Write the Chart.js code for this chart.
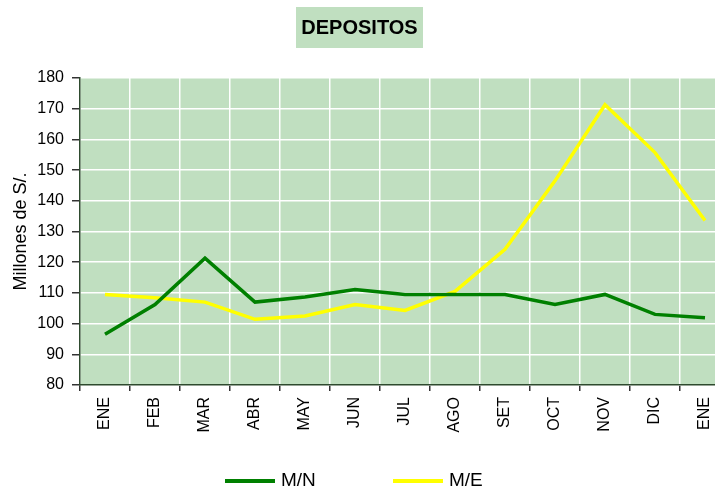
<!DOCTYPE html>
<html>
<head>
<meta charset="utf-8">
<script src="https://cdn.jsdelivr.net/npm/chart.js@4"></script>
<style>
    html, body { margin: 0; padding: 0; background: #fff; overflow: hidden; }
    #wrap { width: 740px; height: 488px; }
</style>
</head>
<body>
<div id="wrap"><canvas id="line-chart"></canvas></div>
<script>
// Datos
var meses = ["ENE", "FEB", "MAR", "ABR", "MAY", "JUN", "JUL", "AGO", "SET", "OCT", "NOV", "DIC", "ENE"];
var depositosMN = [96.5, 106.2, 121.3, 107, 108.7, 111.1, 109.5, 109.5, 109.5, 106.2, 109.5, 103, 101.9];
var depositosME = [109.5, 108.4, 107, 101.4, 102.5, 106.2, 104.3, 110.5, 124.2, 146.5, 171.3, 155.7, 133.6];
var tituloGrafico = "DEPOSITOS";
var tituloEjeY = "Millones de S/.";

var fuente = 'Arial, "Liberation Sans", sans-serif';
var fondoVerde = "#c0dfc0";

// fondo del area del grafico
var fondoPlugin = {
    id: "fondo",
    beforeDraw: function (chart) {
        var a = chart.chartArea;
        var ctx = chart.ctx;
        ctx.save();
        ctx.fillStyle = fondoVerde;
        ctx.fillRect(a.left, a.top, a.right - a.left, a.bottom - a.top);
        ctx.restore();
    }
};

// titulo con caja verde y leyenda abajo
var textosPlugin = {
    id: "textos",
    afterDraw: function (chart) {
        var ctx = chart.ctx;
        ctx.save();
        ctx.fillStyle = fondoVerde;
        ctx.fillRect(296, 7, 127, 41);
        ctx.fillStyle = "#000";
        ctx.font = "bold 20px " + fuente;
        ctx.textAlign = "center";
        ctx.textBaseline = "middle";
        ctx.fillText(tituloGrafico, 359.5, 28);

        var xs = [225, 393];
        ctx.font = "19px " + fuente;
        ctx.textAlign = "left";
        chart.data.datasets.forEach(function (ds, i) {
            ctx.strokeStyle = ds.borderColor;
            ctx.lineWidth = 4;
            ctx.beginPath();
            ctx.moveTo(xs[i], 481);
            ctx.lineTo(xs[i] + 50, 481);
            ctx.stroke();
            ctx.fillStyle = "#000";
            ctx.fillText(ds.label, xs[i] + 56, 481);
        });
        ctx.restore();
    }
};

new Chart(document.getElementById("line-chart"), {
    type: 'line',
    data: {
        labels: meses,
        datasets: [
            {
                label: "M/N",
                data: depositosMN,
                borderColor: "#008000",
                borderWidth: 3.5,
                pointRadius: 0,
                tension: 0,
                fill: false
            },
            {
                label: "M/E",
                data: depositosME,
                borderColor: "#ffff00",
                borderWidth: 3.5,
                pointRadius: 0,
                tension: 0,
                fill: false
            }
        ]
    },
    options: {
        responsive: true,
        maintainAspectRatio: false,
        devicePixelRatio: 1,
        animation: false,
        layout: { padding: { top: 78, right: 10, bottom: 0, left: 0 } },
        plugins: {
            legend: { display: false },
            title: { display: false },
            tooltip: { enabled: false }
        },
        scales: {
            x: {
                offset: true,
                afterFit: function (s) { s.height = 103; },
                grid: {
                    offset: true,
                    color: "#ffffff",
                    lineWidth: 1.5,
                    tickColor: "#333333",
                    tickLength: 6
                },
                border: { color: "#2e4a2e", width: 1.5 },
                ticks: {
                    autoSkip: false,
                    minRotation: 90,
                    maxRotation: 90,
                    padding: 6,
                    color: "#000",
                    font: { family: fuente, size: 16 }
                }
            },
            y: {
                min: 80,
                max: 180,
                afterFit: function (s) { s.width = 80; },
                grid: {
                    color: "#ffffff",
                    lineWidth: 1.5,
                    tickColor: "#333333",
                    tickLength: 8
                },
                border: { color: "#2e4a2e", width: 1.5 },
                ticks: {
                    stepSize: 10,
                    padding: 8,
                    color: "#000",
                    font: { family: fuente, size: 16 }
                },
                title: {
                    display: true,
                    text: tituloEjeY,
                    color: "#000",
                    font: { family: fuente, size: 18 },
                    padding: { top: 10, bottom: 4 }
                }
            }
        }
    },
    plugins: [fondoPlugin, textosPlugin]
});
</script>
</body>
</html>
